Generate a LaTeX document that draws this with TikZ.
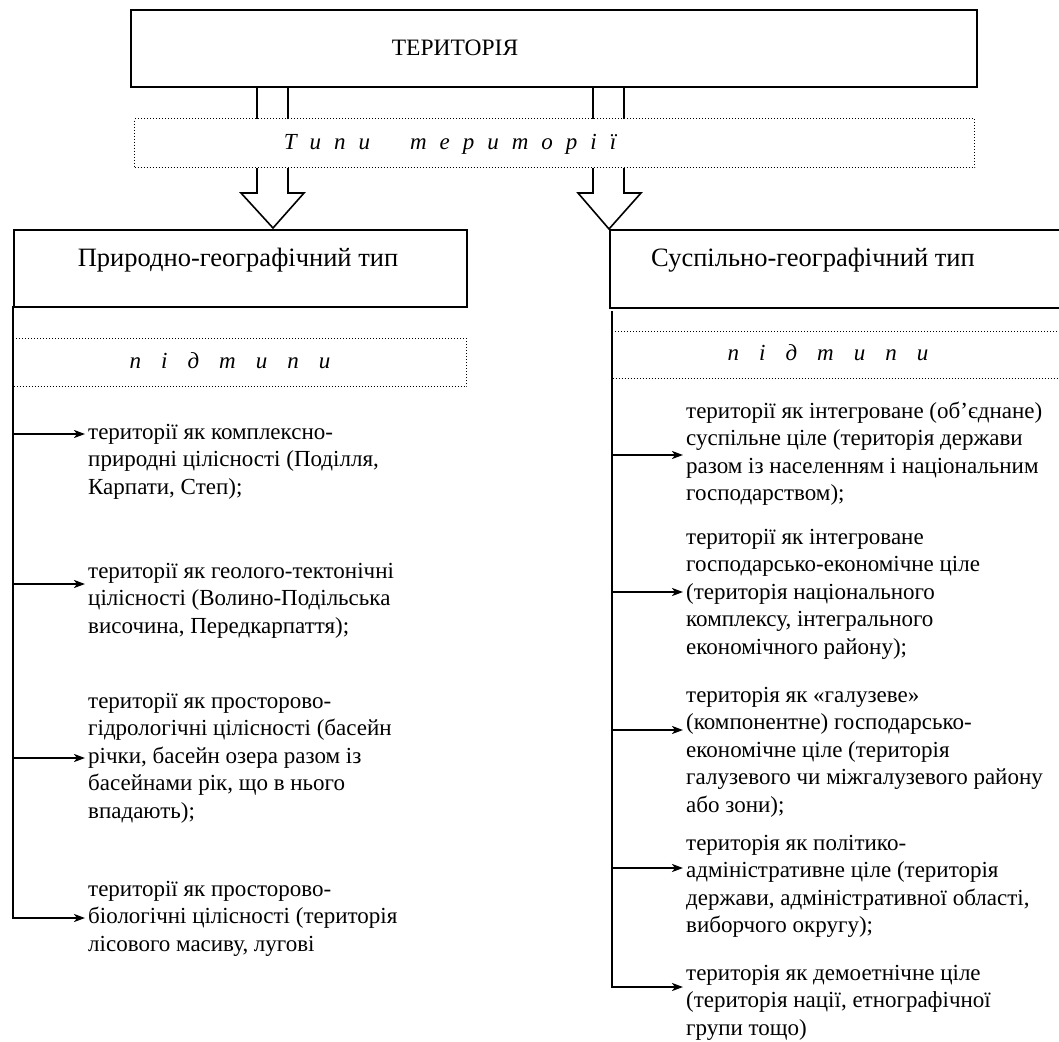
\documentclass[tikz,border=0pt]{standalone}
\usepackage{fontspec}
\setmainfont{Liberation Serif}
\usetikzlibrary{arrows.meta}
\newcommand\lsg{\hspace{13pt}}
\newcommand\lsw{\hspace{40pt}}
\newcommand\lsp{\hspace{20pt}}
\tikzset{
  box/.style={draw, line width=1.6pt, fill=white, inner sep=0pt, anchor=north west},
  dotbox/.style={draw, dotted, line width=1pt, fill=white, inner sep=0pt, anchor=north west},
  trunk/.style={line width=2.6pt, line cap=rect},
  conn/.style={line width=2.2pt, -{Stealth[length=11pt, width=8pt, inset=3pt]}},
  blk/.style={line width=1.6pt, fill=white, line join=miter},
  item/.style={anchor=north west, align=left, inner sep=0pt, font=\fontsize{23}{27.5}\selectfont},
  title/.style={anchor=base, inner sep=0pt, font=\fontsize{23.5}{28}\selectfont},
  ttitle/.style={anchor=base, inner sep=0pt, font=\fontsize{26.5}{30}\selectfont},
  ititle/.style={anchor=base, inner sep=0pt, font=\fontsize{23}{27.5}\selectfont\itshape},
}
\begin{document}
\begin{tikzpicture}[x=1pt, y=-1pt]
\useasboundingbox (0,0) rectangle (1059,1041);
\clip (0,0) rectangle (1059,1041);
\fill[white] (0,0) rectangle (1059,1041);

% block arrows
\draw[blk] (257,86) -- (257,193) -- (241,193) -- (273,228) -- (304,193) -- (288,193) -- (288,86);
\draw[blk] (593,86) -- (593,193) -- (578,193) -- (609,229) -- (641,193) -- (624,193) -- (624,86);

% top box
\node[box, minimum width=846pt, minimum height=77pt] (top) at (130,9) {};
\node[title] (topt) at (455,56) {ТЕРИТОРІЯ};

% types dotted box
\node[dotbox, minimum width=840pt, minimum height=49pt] (types) at (134,118) {};
\node[ititle] (typest) at (450,149) {Т\lsg и\lsg п\lsg и\lsw т\lsg е\lsg р\lsg и\lsg т\lsg о\lsg р\lsg і\lsg ї};

% type boxes
\node[box, minimum width=453pt, minimum height=77pt] (natb) at (13,229) {};
\node[ttitle] (natt) at (238,266) {Природно-географічний тип};
\node[box, minimum width=500pt, minimum height=78pt] (socb) at (609,229) {};
\node[ttitle] (soct) at (813,266) {Суспільно-географічний тип};

% subtype dotted boxes
\node[dotbox, minimum width=453pt, minimum height=48pt] (natsub) at (13,338) {};
\node[ititle] (natsubt) at (230,368) {п\lsp і\lsp д\lsp т\lsp и\lsp п\lsp и};
\node[dotbox, minimum width=500pt, minimum height=47pt] (socsub) at (612,331) {};
\node[ititle] (socsubt) at (828,360) {п\lsp і\lsp д\lsp т\lsp и\lsp п\lsp и};

% trunks
\coordinate (ltop) at (natb.south west);
\coordinate (lbot) at (13,918);
\coordinate (rtop) at (612,312);
\coordinate (rbot) at (612,987);
\draw[trunk] (ltop) -- (lbot);
\draw[trunk] (rtop) -- (rbot);

% left items
\node[item] (l1) at (88,420) {\strut території як комплексно-\\природні цілісності (Поділля,\\Карпати, Степ);};
\node[item] (l2) at (88,559) {\strut території як геолого-тектонічні\\цілісності (Волино-Подільська\\височина, Передкарпаття);};
\node[item] (l3) at (88,689) {\strut території як просторово-\\гідрологічні цілісності (басейн\\річки, басейн озера разом із\\басейнами рік, що в нього\\впадають);};
\node[item] (l4) at (88,877) {\strut території як просторово-\\біологічні цілісності (територія\\лісового масиву, лугові};

% right items
\node[item] (r1) at (686,399) {\strut території як інтегроване (об’єднане)\\суспільне ціле (територія держави\\разом із населенням і національним\\господарством);};
\node[item] (r2) at (686,525) {\strut території як інтегроване\\господарсько-економічне ціле\\(територія національного\\комплексу, інтегрального\\економічного району);};
\node[item] (r3) at (686,683) {\strut територія як «галузеве»\\(компонентне) господарсько-\\економічне ціле (територія\\галузевого чи міжгалузевого району\\або зони);};
\node[item] (r4) at (686,831) {\strut територія як політико-\\адміністративне ціле (територія\\держави, адміністративної області,\\виборчого округу);};
\node[item] (r5) at (686,961) {\strut територія як демоетнічне ціле\\(територія нації, етнографічної\\групи тощо)};

% left connectors
\foreach \y [count=\i] in {434,584,758,918} {
  \coordinate (la\i) at (13,\y);
  \coordinate (lb\i) at (85,\y);
  \draw[conn] (la\i) -- (lb\i);
}
% right connectors
\foreach \y [count=\i] in {455,592,730,868,987} {
  \coordinate (ra\i) at (612,\y);
  \coordinate (rb\i) at (683,\y);
  \draw[conn] (ra\i) -- (rb\i);
}
\end{tikzpicture}
\end{document}
